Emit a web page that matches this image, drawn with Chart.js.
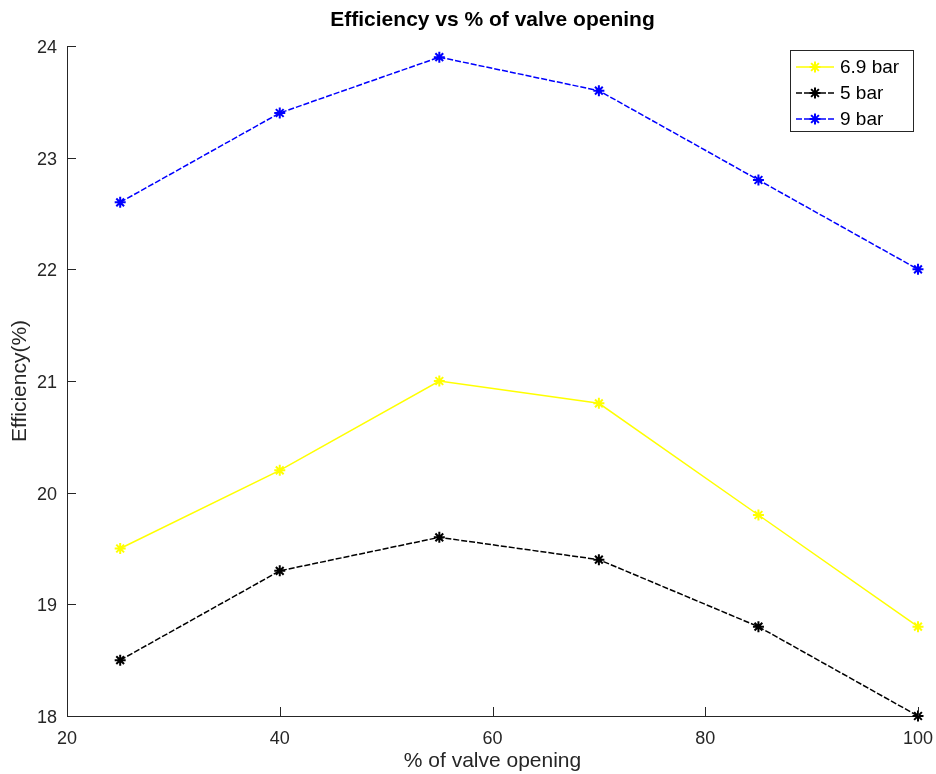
<!DOCTYPE html>
<html>
<head>
<meta charset="utf-8">
<script src="https://cdn.jsdelivr.net/npm/chart.js@4/dist/chart.umd.min.js"></script>
<style>
  html, body { margin: 0; padding: 0; background: #fff; }
  #wrap { width: 936px; height: 774px; }
</style>
</head>
<body>
<div id="wrap"><canvas id="effChart" width="936" height="774"></canvas></div>
<script>
// values
const valveOpening = [25, 40, 55, 70, 85, 100];
const eff69bar = [19.5, 20.2, 21.0, 20.8, 19.8, 18.8];
const eff5bar = [18.5, 19.3, 19.6, 19.4, 18.8, 18.0];
const eff9bar = [22.6, 23.4, 23.9, 23.6, 22.8, 22.0];
const seriesLabels = ['6.9 bar', '5 bar', '9 bar'];

const FONT = '"Liberation Sans", Arial, sans-serif';
const AXIS = '#262626';

function toPoints(ys) {
  return valveOpening.map((x, i) => ({ x: x, y: ys[i] }));
}

function makeSet(label, ys, color, dash) {
  return {
    label: label,
    data: toPoints(ys),
    borderColor: color,
    backgroundColor: color,
    borderWidth: 1.5,
    borderDash: dash,
    pointStyle: 'star',
    pointRadius: 5.5,
    pointBorderWidth: 2,
    pointBorderColor: color,
    fill: false,
    tension: 0,
    clip: false
  };
}

// inward tick marks, title and boxed legend like the original figure
const figureDecor = {
  id: 'figureDecor',
  afterDraw(chart) {
    const ctx = chart.ctx;
    const area = chart.chartArea;
    const xs = chart.scales.x;
    const ys = chart.scales.y;
    ctx.save();
    ctx.strokeStyle = AXIS;
    ctx.lineWidth = 1;
    ctx.beginPath();
    xs.ticks.forEach(t => {
      const px = Math.round(xs.getPixelForValue(t.value)) + 0.5;
      ctx.moveTo(px, area.bottom);
      ctx.lineTo(px, area.bottom - 9);
    });
    ys.ticks.forEach(t => {
      const py = Math.round(ys.getPixelForValue(t.value)) + 0.5;
      ctx.moveTo(area.left, py);
      ctx.lineTo(area.left + 9, py);
    });
    ctx.stroke();

    // title
    ctx.fillStyle = '#000';
    ctx.font = 'bold 21px ' + FONT;
    ctx.textAlign = 'center';
    ctx.textBaseline = 'middle';
    ctx.fillText('Efficiency vs % of valve opening', (area.left + area.right) / 2, 20);

    // legend
    const bx = 790, by = 50, bw = 123, bh = 81;
    ctx.fillStyle = '#fff';
    ctx.fillRect(bx, by, bw, bh);
    ctx.strokeStyle = '#262626';
    ctx.lineWidth = 1;
    ctx.strokeRect(bx + 0.5, by + 0.5, bw, bh);
    ctx.font = '19px ' + FONT;
    ctx.textAlign = 'left';
    chart.data.datasets.forEach((ds, i) => {
      const cy = by + 17 + i * 26;
      ctx.strokeStyle = ds.borderColor;
      ctx.lineWidth = 1.5;
      ctx.setLineDash(ds.borderDash || []);
      ctx.beginPath();
      ctx.moveTo(bx + 6, cy);
      ctx.lineTo(bx + 44, cy);
      ctx.stroke();
      ctx.setLineDash([]);
      ctx.fillStyle = ds.borderColor;
      ctx.lineWidth = 2;
      Chart.helpers.drawPoint(ctx, { pointStyle: 'star', radius: 5.5, borderWidth: 2 }, bx + 25, cy);
      ctx.fillStyle = '#000';
      ctx.fillText(ds.label, bx + 50, cy + 1);
    });
    ctx.restore();
  }
};

new Chart(document.getElementById('effChart').getContext('2d'), {
  type: 'line',
  data: {
    datasets: [
      makeSet(seriesLabels[0], eff69bar, '#ffff00', []),
      makeSet(seriesLabels[1], eff5bar, '#000000', [6, 2]),
      makeSet(seriesLabels[2], eff9bar, '#0000ff', [6, 2])
    ]
  },
  options: {
    responsive: false,
    animation: false,
    layout: { padding: { top: 46, right: 18, left: 0, bottom: 0 } },
    plugins: {
      legend: { display: false },
      title: { display: false },
      tooltip: { enabled: false }
    },
    scales: {
      x: {
        type: 'linear',
        min: 20,
        max: 100,
        afterFit(scale) {
          scale.height = 58;
          scale.paddingLeft = 0;
          scale.paddingRight = 0;
        },
        grid: { display: false, drawTicks: false },
        border: { display: true, color: AXIS, width: 1 },
        ticks: {
          stepSize: 20,
          padding: 12,
          color: AXIS,
          font: { family: FONT, size: 18 }
        },
        title: {
          display: true,
          text: '% of valve opening',
          color: AXIS,
          font: { family: FONT, size: 21 },
          padding: { top: 0, bottom: 0 }
        }
      },
      y: {
        min: 18,
        max: 24,
        afterFit(scale) { scale.width = 67; },
        grid: { display: false, drawTicks: false },
        border: { display: true, color: AXIS, width: 1 },
        ticks: {
          stepSize: 1,
          padding: 10,
          labelOffset: 2,
          color: AXIS,
          font: { family: FONT, size: 18 }
        },
        title: {
          display: true,
          text: 'Efficiency(%)',
          color: AXIS,
          font: { family: FONT, size: 21 },
          padding: { top: 8, bottom: 0 }
        }
      }
    }
  },
  plugins: [figureDecor]
});
</script>
</body>
</html>
